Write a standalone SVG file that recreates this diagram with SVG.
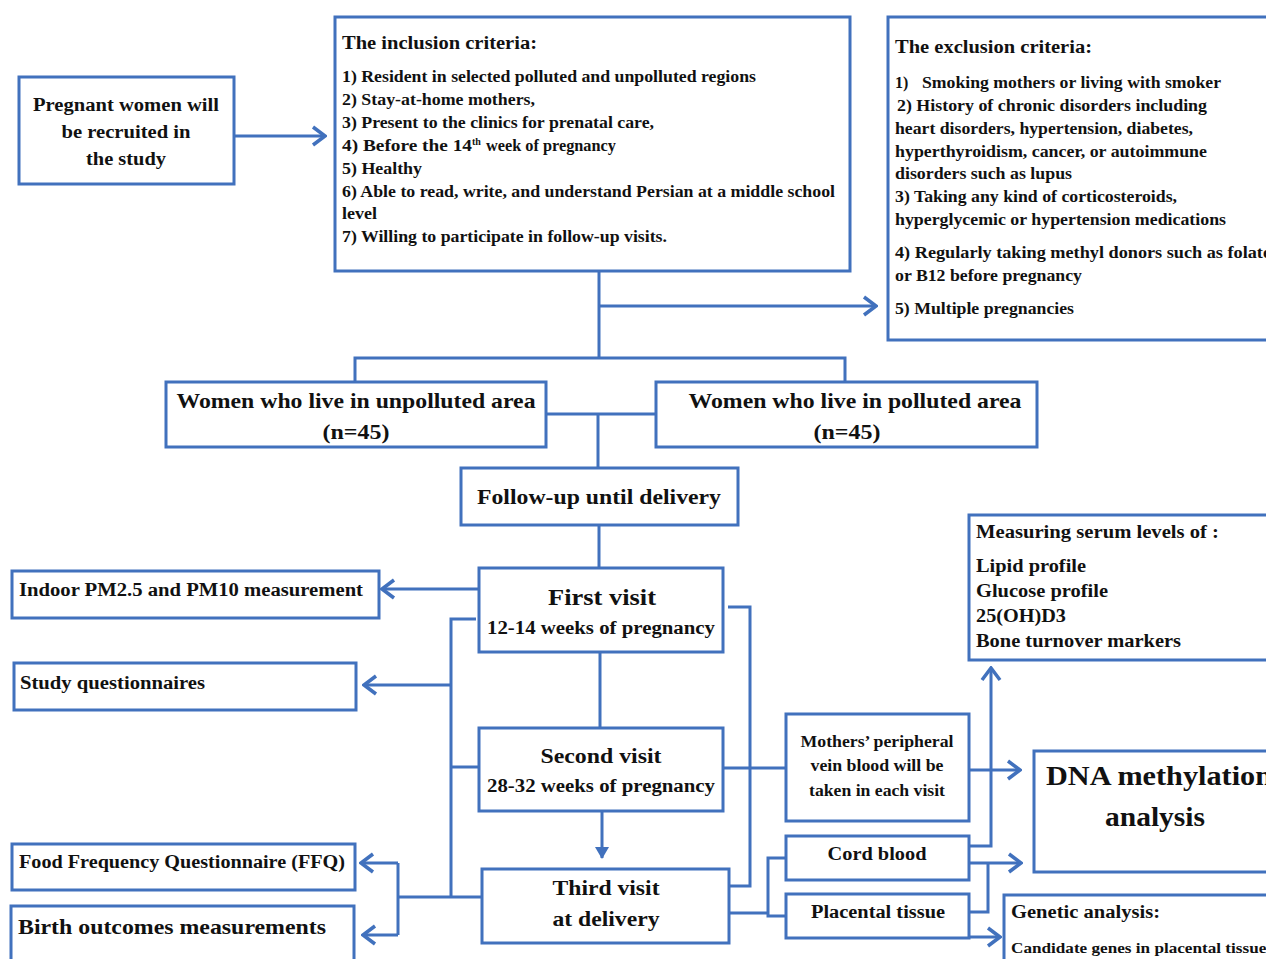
<svg xmlns="http://www.w3.org/2000/svg" width="1266" height="959" viewBox="0 0 1266 959">
<defs>
<style>
.box{fill:#fff;stroke:#4171BD;stroke-width:3}
.ln{fill:none;stroke:#4171BD;stroke-width:3}
text{font-family:"Liberation Serif","Times New Roman",serif;font-weight:bold;fill:#111}
.c{text-anchor:middle}
.s16{font-size:16px}
.s18{font-size:18px}
.s21{font-size:21px}
</style>
<marker id="arr" viewBox="0 0 16 22" refX="14" refY="11" markerWidth="16" markerHeight="22" orient="auto" markerUnits="userSpaceOnUse">
<path d="M2,2 L14,11 L2,20" fill="none" stroke="#4171BD" stroke-width="3.5"/>
</marker>
<marker id="tri" viewBox="0 0 12 14" refX="11" refY="7" markerWidth="12" markerHeight="14" orient="auto" markerUnits="userSpaceOnUse">
<path d="M0,0 L12,7 L0,14 Z" fill="#4171BD"/>
</marker>
</defs>
<rect width="1266" height="959" fill="#fff"/>

<g id="connectors">
<path class="ln" d="M234,136 H325" marker-end="url(#arr)"/>
<path class="ln" d="M599,271 V358"/>
<path class="ln" d="M599,306 H876" marker-end="url(#arr)"/>
<path class="ln" d="M355,382 V358 H845 V382"/>
<path class="ln" d="M546,414 H656"/>
<path class="ln" d="M598,414 V468"/>
<path class="ln" d="M599,525 V568"/>
<path class="ln" d="M479,589 H382" marker-end="url(#arr)"/>
<path class="ln" d="M476,619 H451 V897"/>
<path class="ln" d="M451,685 H364" marker-end="url(#arr)"/>
<path class="ln" d="M451,767 H479"/>
<path class="ln" d="M398,897 H482"/>
<path class="ln" d="M398,863 V935"/>
<path class="ln" d="M398,863 H361" marker-end="url(#arr)"/>
<path class="ln" d="M398,935 H363" marker-end="url(#arr)"/>
<path class="ln" d="M600,652 V728"/>
<path class="ln" d="M602,811 V858" marker-end="url(#tri)"/>
<path class="ln" d="M728,607 H750 V886 H730"/>
<path class="ln" d="M723,768 H786"/>
<path class="ln" d="M729,913 H768"/>
<path class="ln" d="M786,858 H768 V916 H786"/>
<path class="ln" d="M969,770 H1020" marker-end="url(#arr)"/>
<path class="ln" d="M969,846 H991 V668" marker-end="url(#arr)"/>
<path class="ln" d="M969,863 H1021" marker-end="url(#arr)"/>
<path class="ln" d="M969,912 H988 V863"/>
<path class="ln" d="M969,937 H1000" marker-end="url(#arr)"/>
</g>

<g id="pregnant">
<rect class="box" x="19" y="77" width="215" height="107"/>
<text class="c s18" x="126" y="111" textLength="186" lengthAdjust="spacingAndGlyphs">Pregnant women will</text>
<text class="c s18" x="126" y="138" textLength="129" lengthAdjust="spacingAndGlyphs">be recruited in</text>
<text class="c s18" x="126" y="165" textLength="80" lengthAdjust="spacingAndGlyphs">the study</text>
</g>

<g id="inclusion">
<rect class="box" x="335" y="17" width="515" height="254"/>
<text class="s18" x="342" y="49" textLength="195" lengthAdjust="spacingAndGlyphs">The inclusion criteria:</text>
<text class="s16" x="342" y="82" textLength="414" lengthAdjust="spacingAndGlyphs">1) Resident in selected polluted and unpolluted regions</text>
<text class="s16" x="342" y="105" textLength="193" lengthAdjust="spacingAndGlyphs">2) Stay-at-home mothers,</text>
<text class="s16" x="342" y="128" textLength="312" lengthAdjust="spacingAndGlyphs">3) Present to the clinics for prenatal care,</text>
<text class="s16" x="342" y="151"><tspan textLength="130" lengthAdjust="spacingAndGlyphs">4) Before the 14</tspan><tspan font-size="10" dy="-6">th</tspan><tspan dy="6" dx="1" textLength="134" lengthAdjust="spacingAndGlyphs"> week of pregnancy</tspan></text>
<text class="s16" x="342" y="174" textLength="80" lengthAdjust="spacingAndGlyphs">5) Healthy</text>
<text class="s16" x="342" y="197" textLength="493" lengthAdjust="spacingAndGlyphs">6) Able to read, write, and understand Persian at a middle school</text>
<text class="s16" x="342" y="219" textLength="35" lengthAdjust="spacingAndGlyphs">level</text>
<text class="s16" x="342" y="242" textLength="325" lengthAdjust="spacingAndGlyphs">7) Willing to participate in follow-up visits.</text>
</g>

<g id="exclusion">
<rect class="box" x="888" y="17" width="390" height="323"/>
<text class="s18" x="895" y="53" textLength="197" lengthAdjust="spacingAndGlyphs">The exclusion criteria:</text>
<text class="s16" x="895" y="88">1)<tspan x="922" textLength="299" lengthAdjust="spacingAndGlyphs">Smoking mothers or living with smoker</tspan></text>
<text class="s16" x="897" y="111" textLength="310" lengthAdjust="spacingAndGlyphs">2) History of chronic disorders including</text>
<text class="s16" x="895" y="134" textLength="298" lengthAdjust="spacingAndGlyphs">heart disorders, hypertension, diabetes,</text>
<text class="s16" x="895" y="157" textLength="312" lengthAdjust="spacingAndGlyphs">hyperthyroidism, cancer, or autoimmune</text>
<text class="s16" x="895" y="179" textLength="177" lengthAdjust="spacingAndGlyphs">disorders such as lupus</text>
<text class="s16" x="895" y="202" textLength="282" lengthAdjust="spacingAndGlyphs">3) Taking any kind of corticosteroids,</text>
<text class="s16" x="895" y="225" textLength="331" lengthAdjust="spacingAndGlyphs">hyperglycemic or hypertension medications</text>
<text class="s16" x="895" y="258" textLength="376" lengthAdjust="spacingAndGlyphs">4) Regularly taking methyl donors such as folate</text>
<text class="s16" x="895" y="281" textLength="187" lengthAdjust="spacingAndGlyphs">or B12 before pregnancy</text>
<text class="s16" x="895" y="314" textLength="179" lengthAdjust="spacingAndGlyphs">5) Multiple pregnancies</text>
</g>

<g id="unpolluted">
<rect class="box" x="166" y="382" width="380" height="65"/>
<text class="c s21" x="356" y="408" textLength="359" lengthAdjust="spacingAndGlyphs">Women who live in unpolluted area</text>
<text class="c s21" x="356" y="439" textLength="67" lengthAdjust="spacingAndGlyphs">(n=45)</text>
</g>

<g id="polluted">
<rect class="box" x="656" y="382" width="381" height="65"/>
<text class="c s21" x="855" y="408" textLength="333" lengthAdjust="spacingAndGlyphs">Women who live in polluted area</text>
<text class="c s21" x="847" y="439" textLength="67" lengthAdjust="spacingAndGlyphs">(n=45)</text>
</g>

<g id="followup">
<rect class="box" x="461" y="468" width="277" height="57"/>
<text class="c s21" x="599" y="504" textLength="244" lengthAdjust="spacingAndGlyphs">Follow-up until delivery</text>
</g>

<g id="first-visit">
<rect class="box" x="479" y="568" width="244" height="84"/>
<text class="c" x="602" y="605" font-size="24" textLength="108" lengthAdjust="spacingAndGlyphs">First visit</text>
<text class="c s18" x="601" y="634" textLength="228" lengthAdjust="spacingAndGlyphs">12-14 weeks of pregnancy</text>
</g>

<g id="second-visit">
<rect class="box" x="479" y="728" width="244" height="83"/>
<text class="c s21" x="601" y="763" textLength="121" lengthAdjust="spacingAndGlyphs">Second visit</text>
<text class="c s18" x="601" y="792" textLength="228" lengthAdjust="spacingAndGlyphs">28-32 weeks of pregnancy</text>
</g>

<g id="third-visit">
<rect class="box" x="482" y="869" width="247" height="74"/>
<text class="c s21" x="606" y="895" textLength="107" lengthAdjust="spacingAndGlyphs">Third visit</text>
<text class="c s21" x="606" y="926" textLength="107" lengthAdjust="spacingAndGlyphs">at delivery</text>
</g>

<g id="indoor">
<rect class="box" x="12" y="571" width="367" height="47"/>
<text class="s18" x="19" y="596" textLength="344" lengthAdjust="spacingAndGlyphs">Indoor PM2.5 and PM10 measurement</text>
</g>

<g id="questionnaires">
<rect class="box" x="14" y="663" width="342" height="47"/>
<text class="s18" x="20" y="689" textLength="185" lengthAdjust="spacingAndGlyphs">Study questionnaires</text>
</g>

<g id="ffq">
<rect class="box" x="12" y="844" width="343" height="46"/>
<text class="s18" x="19" y="868" textLength="326" lengthAdjust="spacingAndGlyphs">Food Frequency Questionnaire  (FFQ)</text>
</g>

<g id="birth">
<rect class="box" x="11" y="906" width="343" height="60"/>
<text class="s21" x="18" y="934" textLength="308" lengthAdjust="spacingAndGlyphs">Birth outcomes measurements</text>
</g>

<g id="measuring">
<rect class="box" x="969" y="515" width="310" height="145"/>
<text class="s18" x="976" y="538" textLength="243" lengthAdjust="spacingAndGlyphs">Measuring serum levels of :</text>
<text x="976" y="572" font-size="19" textLength="110" lengthAdjust="spacingAndGlyphs">Lipid profile</text>
<text x="976" y="597" font-size="19" textLength="132" lengthAdjust="spacingAndGlyphs">Glucose profile</text>
<text x="976" y="622" font-size="19" textLength="90" lengthAdjust="spacingAndGlyphs">25(OH)D3</text>
<text x="976" y="647" font-size="19" textLength="205" lengthAdjust="spacingAndGlyphs">Bone turnover markers</text>
</g>

<g id="mothers-blood">
<rect class="box" x="786" y="714" width="183" height="107"/>
<text class="c s16" x="877" y="747" textLength="153" lengthAdjust="spacingAndGlyphs">Mothers’ peripheral</text>
<text class="c s16" x="877" y="771" textLength="133" lengthAdjust="spacingAndGlyphs">vein blood will be</text>
<text class="c s16" x="877" y="796" textLength="136" lengthAdjust="spacingAndGlyphs">taken in each visit</text>
</g>

<g id="cord-blood">
<rect class="box" x="786" y="836" width="183" height="44"/>
<text class="c s18" x="877" y="860" textLength="99" lengthAdjust="spacingAndGlyphs">Cord blood</text>
</g>

<g id="placental">
<rect class="box" x="786" y="894" width="183" height="44"/>
<text class="c s18" x="878" y="918" textLength="134" lengthAdjust="spacingAndGlyphs">Placental tissue</text>
</g>

<g id="dna">
<rect class="box" x="1034" y="751" width="250" height="121"/>
<text x="1046" y="785" font-size="28" textLength="226" lengthAdjust="spacingAndGlyphs">DNA methylation</text>
<text x="1105" y="826" font-size="28" textLength="100" lengthAdjust="spacingAndGlyphs">analysis</text>
</g>

<g id="genetic">
<rect class="box" x="1004" y="895" width="280" height="80"/>
<text class="s18" x="1011" y="918" textLength="149" lengthAdjust="spacingAndGlyphs">Genetic analysis:</text>
<text x="1011" y="953" font-size="15" textLength="262" lengthAdjust="spacingAndGlyphs">Candidate genes in placental tissues</text>
</g>
</svg>
